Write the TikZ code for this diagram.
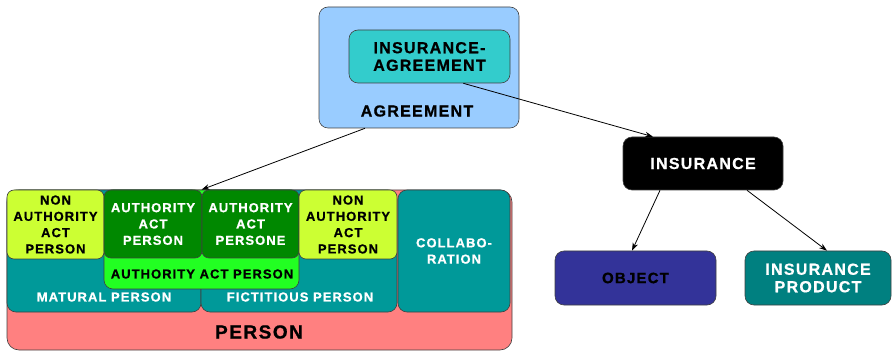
\documentclass[tikz,border=0pt]{standalone}
\usepackage{fontspec}
\setmainfont{Liberation Sans}
\newfontfamily\lblfont[LetterSpace=8,BoldFeatures={FakeBold=0.8}]{Liberation Sans}
\usetikzlibrary{arrows.meta,calc}
\definecolor{agrblue}{HTML}{99CCFF}
\definecolor{turq}{HTML}{33CCCC}
\definecolor{objblue}{HTML}{333399}
\definecolor{prodteal}{HTML}{008080}
\definecolor{personpink}{HTML}{FF8080}
\definecolor{teal}{HTML}{009999}
\definecolor{limegreen}{HTML}{22FF22}
\definecolor{darkgreen}{HTML}{008800}
\definecolor{yellowgreen}{HTML}{CCFF33}
\begin{document}
\begin{tikzpicture}[x=1pt,y=-1pt,
  box/.style={draw=black!75, line width=0.6pt, rounded corners=9pt, inner sep=0pt},
  sbox/.style={box, rounded corners=7pt},
  big/.style={font=\lblfont\bfseries\fontsize{16}{17.5}\selectfont, align=center, inner sep=0pt},
  small/.style={font=\lblfont\bfseries\fontsize{13}{16.3}\selectfont, align=center, inner sep=0pt},
  link/.style={line width=0.8pt, -{Stealth[length=8pt,width=5.5pt]}}]
\useasboundingbox (0,0) rectangle (893,352);

% agreement part
\node[box, fill=agrblue, minimum width=200pt, minimum height=121pt] (agr) at (419,67.5) {};
\node[box, fill=turq, minimum width=161pt, minimum height=53pt] (insagr) at (429.5,56.5) {};
\node[big] (insagrlbl) at (insagr) {INSURANCE-\\AGREEMENT};
\node[big] (agrlbl) at (417,111) {AGREEMENT};

% insurance part
\node[box, fill=black, minimum width=160pt, minimum height=53pt] (ins) at (703,163.5) {};
\node[big, text=white] (inslbl) at (ins) {INSURANCE};
\node[box, fill=objblue, minimum width=161pt, minimum height=54pt] (obj) at (635.5,278) {};
\node[big, font=\lblfont\bfseries\fontsize{15}{17}\selectfont] (objlbl) at (obj) {OBJECT};
\node[box, fill=prodteal, minimum width=146pt, minimum height=54pt] (prod) at (818,278) {};
\node[big, text=white] (prodlbl) at (prod) {INSURANCE\\PRODUCT};

% person part
\node[box, rounded corners=12pt, fill=personpink, minimum width=505pt, minimum height=160pt] (person) at (259.5,270) {};
\node[box, fill=teal, minimum width=194pt, minimum height=122pt] (mat) at (104,251) {};
\node[box, fill=teal, minimum width=196pt, minimum height=122pt] (fic) at (299,251) {};
\node[box, fill=teal, minimum width=112pt, minimum height=122pt] (col) at (454,251) {};
\node[box, fill=limegreen, minimum width=195pt, minimum height=99pt] (authgrp) at (201.5,239.5) {};
\node[sbox, fill=yellowgreen, minimum width=97pt, minimum height=69pt] (nona) at (55.5,224.5) {};
\node[sbox, fill=darkgreen, minimum width=98pt, minimum height=68pt] (autha) at (153,224) {};
\node[sbox, fill=darkgreen, minimum width=97pt, minimum height=68pt] (authb) at (250.5,224) {};
\node[sbox, fill=yellowgreen, minimum width=98pt, minimum height=69pt] (nonb) at (348,224.5) {};

\node[small] (nonalbl) at (nona) {NON\\AUTHORITY\\ACT\\PERSON};
\node[small, text=white] (authalbl) at (autha) {AUTHORITY\\ACT\\PERSON};
\node[small, text=white] (authblbl) at (authb) {AUTHORITY\\ACT\\PERSONE};
\node[small] (nonblbl) at (nonb) {NON\\AUTHORITY\\ACT\\PERSON};
\node[small] (authgrplbl) at (202,274) {AUTHORITY ACT PERSON};
\node[small, text=white] (matlbl) at (104,297) {MATURAL PERSON};
\node[small, text=white] (ficlbl) at (300,297) {FICTITIOUS PERSON};
\node[small, text=white] (collbl) at (454,251) {COLLABO-\\RATION};
\node[big, font=\lblfont\bfseries\fontsize{19}{20}\selectfont] (personlbl) at (259,332) {PERSON};

% connectors
\draw[link] ($(agr.south)+(-54,0)$) -- (authgrp.north);
\draw[link] ($(insagr.south east)+(-47,0)$) -- ($(ins.north)+(-50,0)$);
\draw[link] ($(ins.south)+(-43,0)$) -- ($(obj.north)+(-3.5,0)$);
\draw[link] ($(ins.south)+(44,0)$) -- ($(prod.north)+(9,0)$);
\end{tikzpicture}
\end{document}
